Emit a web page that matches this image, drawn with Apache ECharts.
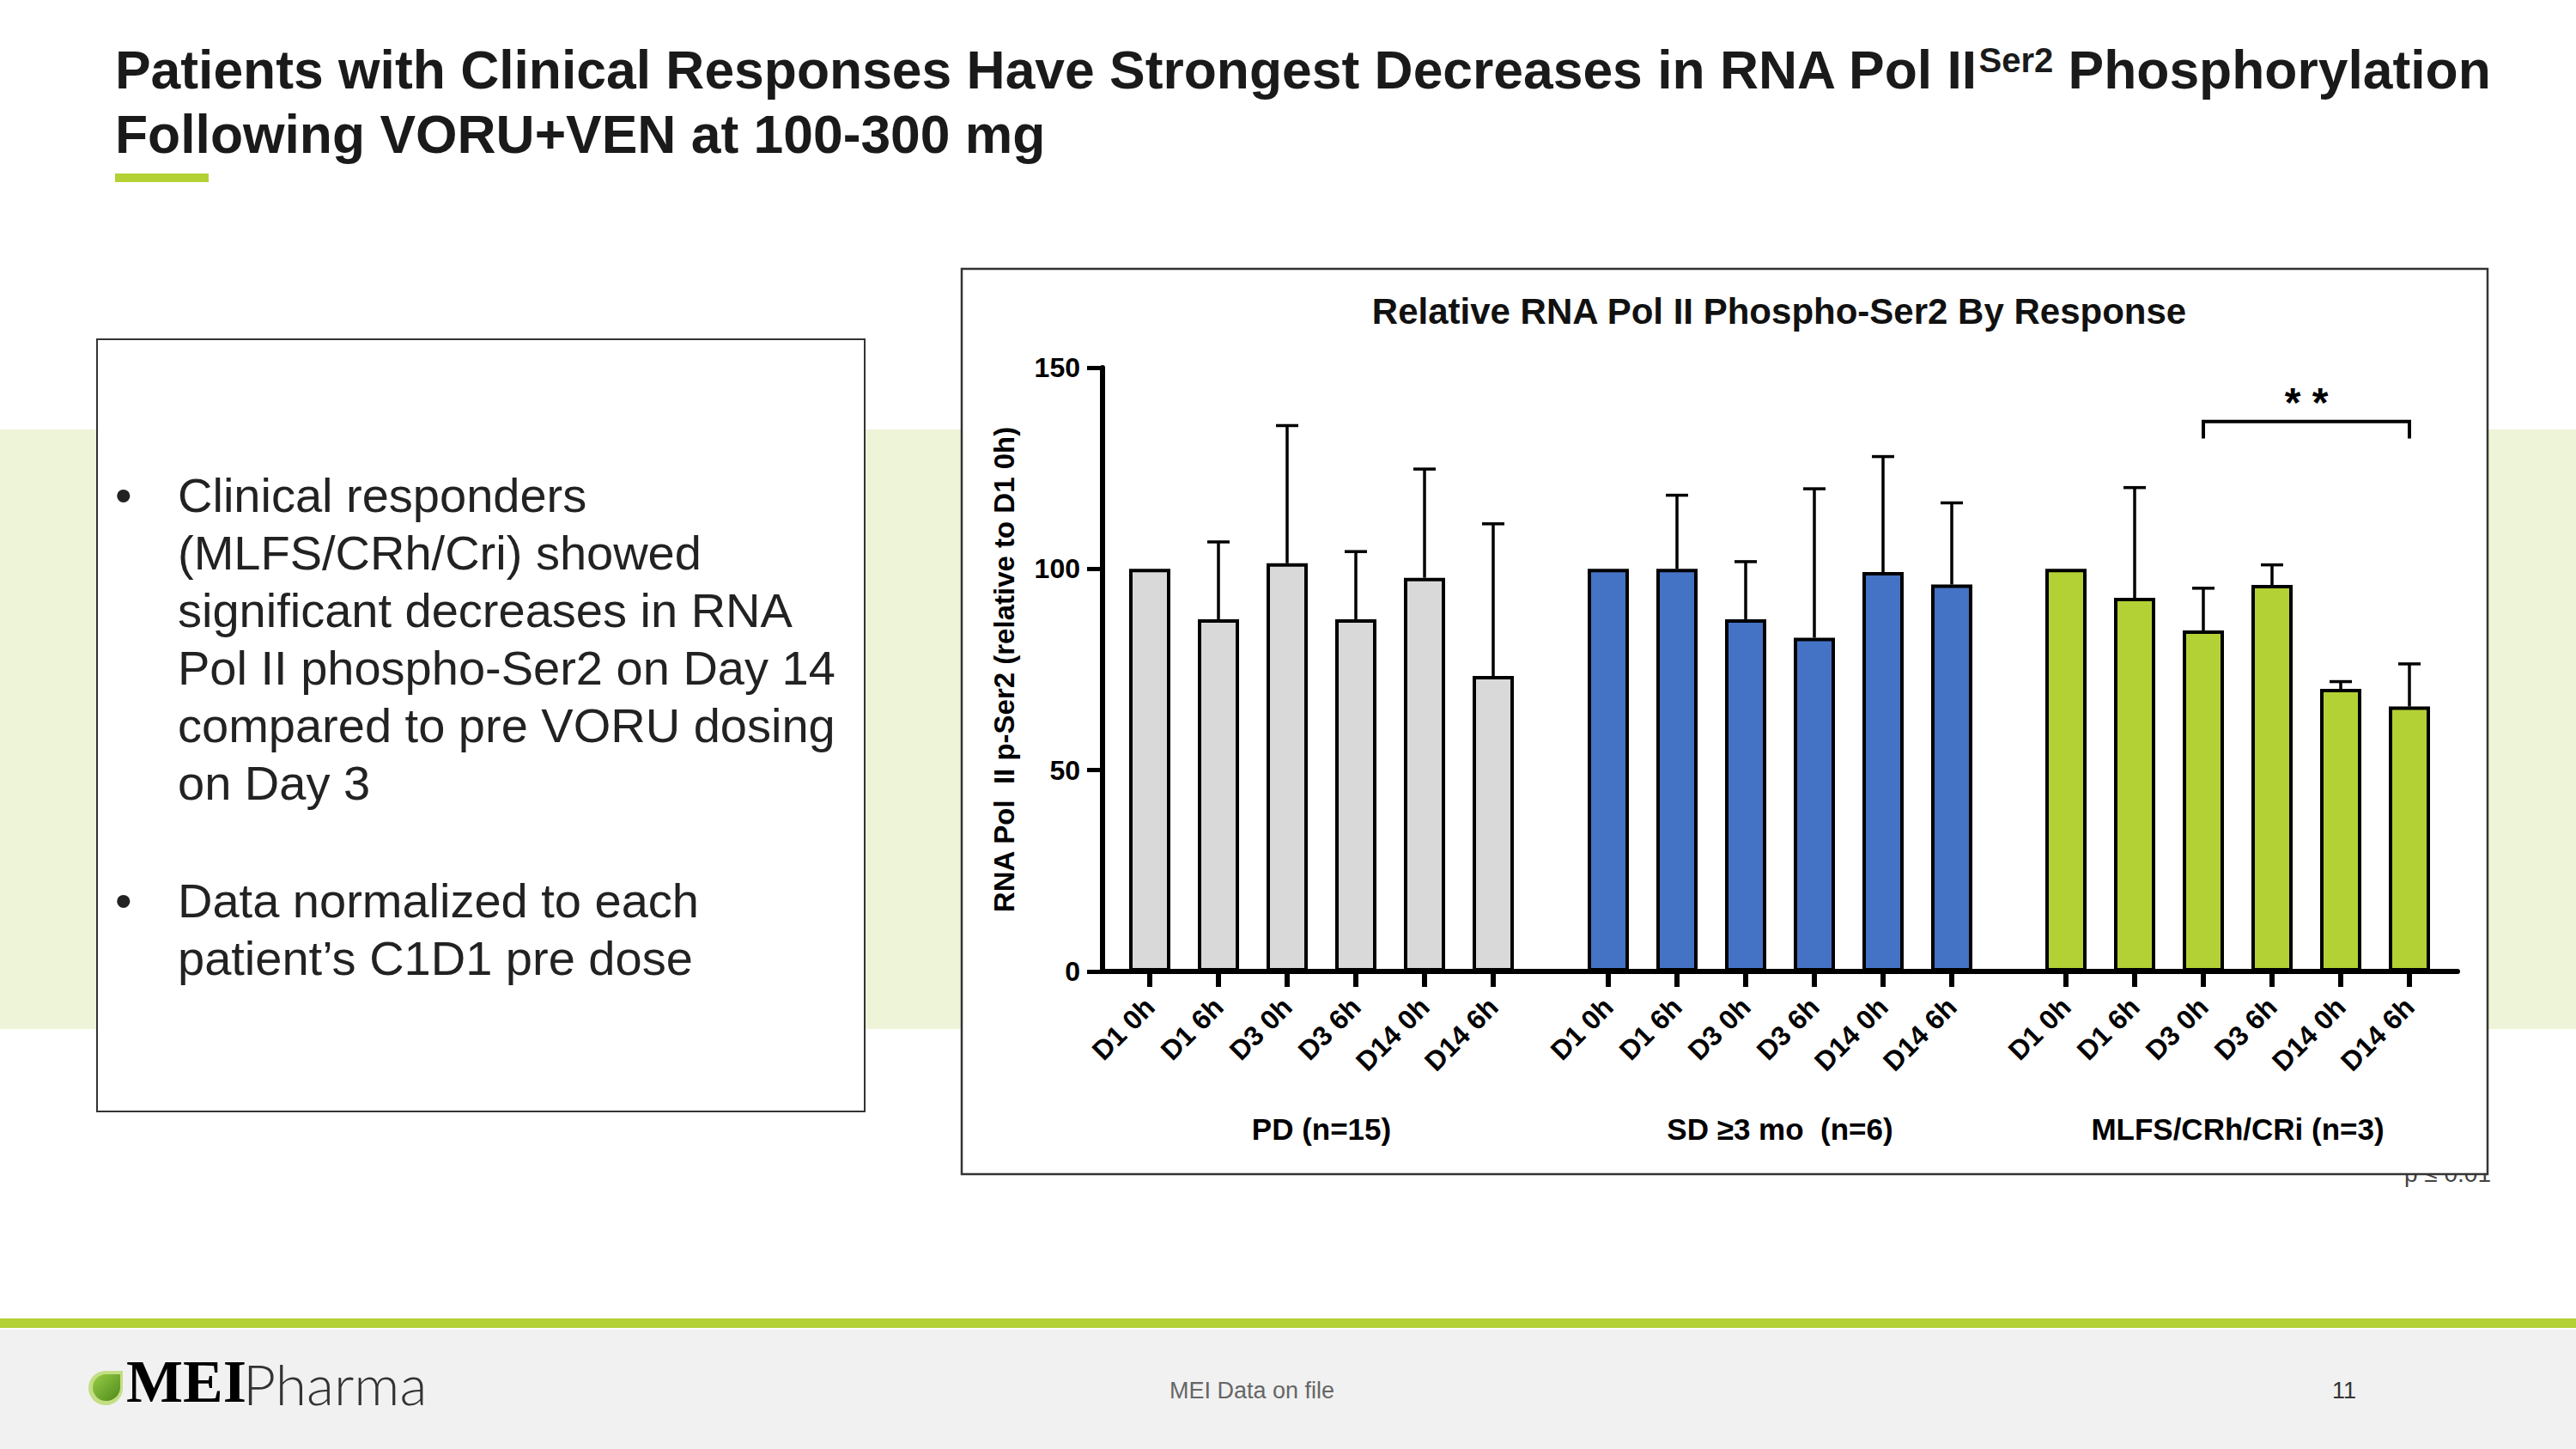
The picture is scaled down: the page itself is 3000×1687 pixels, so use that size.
<!DOCTYPE html>
<html>
<head>
<meta charset="utf-8">
<script src="https://cdn.jsdelivr.net/npm/echarts@6.0.0/dist/echarts.min.js"></script>
<style>
  html, body { margin: 0; padding: 0; background: #ffffff; }
  #chart { width: 3000px; height: 1687px; }
</style>
</head>
<body>
<div id="chart"></div>
<script>
// ---------------- data ----------------
const timepoints = ['D1 0h', 'D1 6h', 'D3 0h', 'D3 6h', 'D14 0h', 'D14 6h'];
const groupNames = ['PD (n=15)', 'SD \u22653 mo  (n=6)', 'MLFS/CRh/CRi (n=3)'];
const pdMean    = [100, 87.5, 101.4, 87.5, 97.8, 73.4];
const pdUpper   = [null, 106.7, 135.6, 104.3, 124.8, 111.2];
const sdMean    = [100, 100, 87.5, 82.9, 99.2, 96.1];
const sdUpper   = [null, 118.3, 101.8, 119.9, 127.9, 116.4];
const mlfsMean  = [100, 92.8, 84.7, 96.0, 70.2, 65.8];
const mlfsUpper = [null, 120.2, 95.2, 101.0, 72.0, 76.4];
const yMin = 0, yMax = 150, yStep = 50;
// significance bracket in the MLFS group: from D3 0h to D14 6h
const sigBracket = [[2, 5, 136.6, 132.4, 141.4]];
const sigLabel = '* *';

const slideTitle1 = 'Patients with Clinical Responses Have Strongest Decreases in RNA Pol II';
const slideTitleSup = 'Ser2';
const slideTitle1b = ' Phosphorylation';
const slideTitle2 = 'Following VORU+VEN at 100-300 mg';
const chartTitle = 'Relative RNA Pol II Phospho-Ser2 By Response';
const yAxisTitle = 'RNA Pol  II p-Ser2 (relative to D1 0h)';
const bullet1 = ['Clinical responders', '(MLFS/CRh/Cri) showed', 'significant decreases in RNA',
                 'Pol II phospho-Ser2 on Day 14', 'compared to pre VORU dosing', 'on Day 3'];
const bullet2 = ['Data normalized to each', 'patient\u2019s C1D1 pre dose'];

// ---------------- layout / style ----------------
const groupMeans = [pdMean, sdMean, mlfsMean];
const groupUppers = [pdUpper, sdUpper, mlfsUpper];
const groupColors = ['#d9d9d9', '#4472c4', '#b3d135'];
const FONT = '"Liberation Sans", Arial, Helvetica, sans-serif';
const gridTop = 428, gridH = 703;
const gridLefts = [1299, 1833, 2366];
const gridW = 480;

const grids = [{ left: 1284, top: gridTop, width: 1578, height: gridH }];
gridLefts.forEach(l => grids.push({ left: l, top: gridTop, width: gridW, height: gridH }));

const xAxes = [{
  gridIndex: 0, type: 'value', min: 0, max: 1,
  axisLine: { show: true, lineStyle: { color: '#000', width: 6 } },
  axisTick: { show: false }, axisLabel: { show: false }, splitLine: { show: false }
}];
const yAxes = [{
  gridIndex: 0, type: 'value', min: yMin, max: yMax, interval: yStep,
  axisLine: { show: true, lineStyle: { color: '#000', width: 6 } },
  axisTick: { show: true, length: 18, lineStyle: { color: '#000', width: 5 } },
  axisLabel: { color: '#000', fontFamily: FONT, fontWeight: 'bold', fontSize: 32, margin: 26 },
  splitLine: { show: false },
  name: yAxisTitle, nameLocation: 'middle', nameRotate: 90, nameGap: 98,
  nameTextStyle: { color: '#000', fontFamily: FONT, fontWeight: 'bold', fontSize: 33 }
}];
groupNames.forEach((g, i) => {
  xAxes.push({
    gridIndex: i + 1, type: 'category', data: timepoints,
    boundaryGap: true,
    axisLine: { show: false },
    axisTick: { show: true, alignWithLabel: true, length: 18, lineStyle: { color: '#000', width: 6 } },
    axisLabel: { interval: 0, rotate: 45, margin: 36, color: '#000', fontFamily: FONT, fontWeight: 'bold', fontSize: 32 },
    splitLine: { show: false },
    name: g, nameLocation: 'middle', nameGap: 166,
    nameTextStyle: { color: '#000', fontFamily: FONT, fontWeight: 'bold', fontSize: 35 }
  });
  yAxes.push({ gridIndex: i + 1, type: 'value', min: yMin, max: yMax, interval: yStep, show: false });
});

const series = [];
groupNames.forEach((g, i) => {
  series.push({
    type: 'bar', name: g, xAxisIndex: i + 1, yAxisIndex: i + 1,
    data: groupMeans[i], barWidth: 48,
    itemStyle: { color: groupColors[i], borderColor: '#000', borderWidth: 4 },
    z: 3
  });
  series.push({
    type: 'custom', name: g + ' err', xAxisIndex: i + 1, yAxisIndex: i + 1, z: 2,
    data: timepoints.map((t, k) => [k, groupMeans[i][k], groupUppers[i][k] == null ? NaN : groupUppers[i][k]]),
    encode: { x: 0, y: [1, 2] },
    renderItem: function (params, api) {
      const up = api.value(2);
      if (up == null || isNaN(up)) return null;
      const p0 = api.coord([api.value(0), api.value(1)]);
      const p1 = api.coord([api.value(0), up]);
      const st = { stroke: '#000', lineWidth: 3.5 };
      return { type: 'group', children: [
        { type: 'line', shape: { x1: p0[0], y1: p0[1], x2: p1[0], y2: p1[1] }, style: st },
        { type: 'line', shape: { x1: p1[0] - 13, y1: p1[1], x2: p1[0] + 13, y2: p1[1] }, style: st }
      ]};
    }
  });
});
series.push({
  type: 'custom', name: 'significance', xAxisIndex: 3, yAxisIndex: 3, z: 5,
  data: sigBracket, encode: { x: [0, 1], y: [2, 3] },
  renderItem: function (params, api) {
    const a = api.coord([api.value(0), api.value(2)]);
    const b = api.coord([api.value(1), api.value(2)]);
    const aLow = api.coord([api.value(0), api.value(3)]);
    const bLow = api.coord([api.value(1), api.value(3)]);
    const s = api.coord([(api.value(0) + api.value(1)) / 2, api.value(4)]);
    return { type: 'group', children: [
      { type: 'polyline', shape: { points: [aLow, a, b, bLow] }, style: { stroke: '#000', lineWidth: 4, fill: null } },
      { type: 'text', x: (a[0] + b[0]) / 2, y: s[1],
        style: { text: sigLabel, fill: '#000', fontFamily: FONT, fontWeight: 'bold', fontSize: 48, align: 'center', verticalAlign: 'middle' } }
    ]};
  }
});

// ---------------- slide decorations ----------------
const graphic = [
  { type: 'rect', z: -30, shape: { x: 0, y: 500, width: 3000, height: 698 }, style: { fill: '#eef4d8' } },
  { type: 'text', z: -25, x: 2901, y: 1380,
    style: { text: 'p \u2264 0.01', fill: '#444', fontFamily: FONT, fontSize: 28, align: 'right', verticalAlign: 'bottom' } },
  { type: 'rect', z: -20, shape: { x: 1120, y: 313, width: 1777, height: 1054 },
    style: { fill: '#fff', stroke: '#333', lineWidth: 2.5 } },
  { type: 'rect', z: -20, shape: { x: 113, y: 395, width: 894, height: 899 },
    style: { fill: '#fff', stroke: '#333', lineWidth: 2 } },
  { type: 'rect', z: 1, shape: { x: 134, y: 202, width: 109, height: 10 }, style: { fill: '#b3d135' } },
  { type: 'rect', z: -30, shape: { x: 0, y: 1535, width: 3000, height: 11 }, style: { fill: '#b3d135' } },
  { type: 'rect', z: -30, shape: { x: 0, y: 1548, width: 3000, height: 139 }, style: { fill: '#f1f1f1' } },
  { type: 'text', z: 5, x: 134, y: 81,
    style: {
      text: '{a|' + slideTitle1 + '}{s|' + slideTitleSup + '}{a|' + slideTitle1b + '}',
      verticalAlign: 'middle', align: 'left',
      rich: {
        a: { fontFamily: FONT, fontWeight: 'bold', fontSize: 62.4, lineHeight: 62, fill: '#1a1a1a' },
        s: { fontFamily: FONT, fontWeight: 'bold', fontSize: 40, lineHeight: 40, fill: '#1a1a1a', verticalAlign: 'top' }
      }
    } },
  { type: 'text', z: 5, x: 134, y: 156,
    style: { text: slideTitle2, fontFamily: FONT, fontWeight: 'bold', fontSize: 62.4, fill: '#1a1a1a', verticalAlign: 'middle' } },
  { type: 'text', z: 5, x: 2072, y: 362,
    style: { text: chartTitle, fontFamily: FONT, fontWeight: 'bold', fontSize: 42, fill: '#111', align: 'center', verticalAlign: 'middle' } },
  { type: 'text', z: 5, x: 134, y: 543,
    style: { text: '\u2022', fontFamily: FONT, fontSize: 56, lineHeight: 67, fill: '#222', verticalAlign: 'top' } },
  { type: 'text', z: 5, x: 207, y: 543,
    style: { text: bullet1.join('\n'), fontFamily: FONT, fontSize: 56, lineHeight: 67, fill: '#222', verticalAlign: 'top' } },
  { type: 'text', z: 5, x: 134, y: 1015,
    style: { text: '\u2022', fontFamily: FONT, fontSize: 56, lineHeight: 67, fill: '#222', verticalAlign: 'top' } },
  { type: 'text', z: 5, x: 207, y: 1015,
    style: { text: bullet2.join('\n'), fontFamily: FONT, fontSize: 56, lineHeight: 67, fill: '#222', verticalAlign: 'top' } },
  { type: 'rect', z: 5, shape: { x: 103, y: 1596, width: 40, height: 40, r: [20, 0, 20, 20] }, style: { fill: '#c3de84' } },
  { type: 'rect', z: 6, shape: { x: 108, y: 1600, width: 32, height: 31, r: [16, 0, 16, 16] },
    style: { fill: { type: 'linear', x: 0, y: 0, x2: 1, y2: 1, colorStops: [{ offset: 0, color: '#98cc45' }, { offset: 1, color: '#4e8a1c' }] } } },
  { type: 'text', z: 5, x: 147, y: 1643,
    style: { text: 'MEI', fontFamily: '"Liberation Serif", "DejaVu Serif", serif', fontWeight: 'bold', fontSize: 70, fill: '#000', verticalAlign: 'bottom' } },
  { type: 'text', z: 5, x: 283, y: 1643,
    style: { text: 'Pharma', fontFamily: 'Lato, "Liberation Sans", sans-serif', fontWeight: 300, fontSize: 66, fill: '#333', verticalAlign: 'bottom' } },
  { type: 'text', z: 5, x: 1458, y: 1619,
    style: { text: 'MEI Data on file', fontFamily: FONT, fontSize: 27, fill: '#666', align: 'center', verticalAlign: 'middle' } },
  { type: 'text', z: 5, x: 2730, y: 1619,
    style: { text: '11', fontFamily: FONT, fontSize: 27, fill: '#333', align: 'center', verticalAlign: 'middle' } }
];

const chart = echarts.init(document.getElementById('chart'), null, { renderer: 'svg', width: 3000, height: 1687 });
chart.setOption({
  backgroundColor: '#ffffff',
  animation: false,
  textStyle: { fontFamily: FONT },
  grid: grids,
  xAxis: xAxes,
  yAxis: yAxes,
  series: series,
  graphic: graphic
});
</script>
</body>
</html>
